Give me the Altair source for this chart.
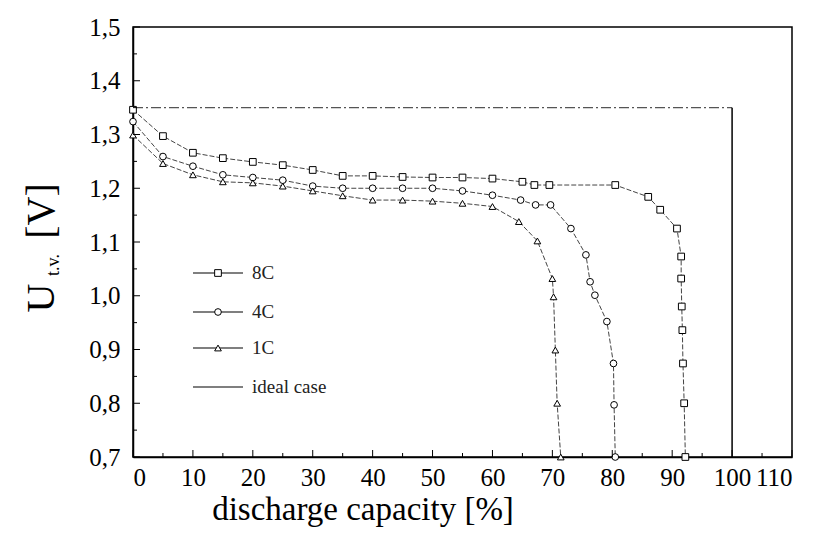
import altair as alt
import pandas as pd

# ---- data ----
x_8c = [0, 5, 10, 15, 20, 25, 30, 35, 40, 45, 50, 55, 60, 65, 67, 69.5, 80.5, 86, 88, 90.8, 91.5, 91.5, 91.6, 91.7, 91.8, 92, 92.2]
v_8c = [1.346, 1.297, 1.266, 1.256, 1.249, 1.243, 1.234, 1.223, 1.223, 1.221, 1.22, 1.22, 1.218, 1.212, 1.206, 1.206, 1.206, 1.184, 1.16, 1.125, 1.073, 1.032, 0.98, 0.936, 0.874, 0.80, 0.70]
x_4c = [0, 5, 10, 15, 20, 25, 30, 35, 40, 45, 50, 55, 60, 64.7, 67.2, 69.7, 73.1, 75.6, 76.3, 77.1, 79.1, 80.2, 80.3, 80.5]
v_4c = [1.324, 1.259, 1.241, 1.225, 1.22, 1.215, 1.204, 1.2, 1.2, 1.2, 1.2, 1.195, 1.187, 1.178, 1.169, 1.169, 1.125, 1.076, 1.026, 1.001, 0.952, 0.874, 0.797, 0.70]
x_1c = [0, 5, 10, 15, 20, 25, 30, 35, 40, 45, 50, 55, 60, 64.4, 67.5, 70, 70.2, 70.5, 70.8, 71.4]
v_1c = [1.299, 1.246, 1.225, 1.212, 1.21, 1.204, 1.195, 1.186, 1.178, 1.178, 1.176, 1.172, 1.166, 1.138, 1.102, 1.032, 0.998, 0.899, 0.80, 0.70]
x_ideal = [0, 100, 100]
v_ideal = [1.35, 1.35, 0.70]

series_names = ["8C", "4C", "1C"]
legend_labels = ["8C", "4C", "1C", "ideal case"]
x_ticks = list(range(0, 111, 10))
x_minor = list(range(5, 110, 10))
y_ticks = [0.7, 0.8, 0.9, 1.0, 1.1, 1.2, 1.3, 1.4, 1.5]
y_minor = [0.75, 0.85, 0.95, 1.05, 1.15, 1.25, 1.35, 1.45]

W, H = 659, 430
FONT = "Liberation Serif"

rows = []
for name, xs, vs in [("8C", x_8c, v_8c), ("4C", x_4c, v_4c), ("1C", x_1c, v_1c)]:
    for i, (a, b) in enumerate(zip(xs, vs)):
        rows.append({"series": name, "x": a, "v": b, "i": i})
df = pd.DataFrame(rows)
ideal = pd.DataFrame({"x": x_ideal, "v": v_ideal, "i": range(len(x_ideal))})

xs = alt.Scale(domain=[0, 110], nice=False)
ys = alt.Scale(domain=[0.7, 1.5], nice=False)
shape_scale = alt.Scale(domain=series_names, range=["square", "circle", "triangle-up"])

base = alt.Chart(df)
lines = base.mark_line(color="#444", strokeWidth=1, strokeDash=[5, 2]).encode(
    x=alt.X("x:Q", scale=xs, axis=alt.Axis(values=x_ticks, tickSize=0, labelFont=FONT, labelFontSize=25,
                                          labelColor="black", labelPadding=8, domainColor="black",
                                          domainWidth=1.5, grid=False, title=None)),
    y=alt.Y("v:Q", scale=ys, axis=alt.Axis(values=y_ticks, tickSize=0, labelFont=FONT, labelFontSize=25,
                                          labelColor="black", labelPadding=13, domainColor="black",
                                          domainWidth=1.5, grid=False, title=None,
                                          labelExpr="replace(format(datum.value, '.1f'), '.', ',')")),
    detail="series:N",
    order="i:Q",
)
points = base.mark_point(filled=True, fill="white", stroke="black", strokeWidth=1, size=45, opacity=1).encode(
    x=alt.X("x:Q", scale=xs),
    y=alt.Y("v:Q", scale=ys),
    shape=alt.Shape("series:N", scale=shape_scale, legend=None),
)
ideal_h = alt.Chart(ideal.iloc[:2]).mark_line(color="#555", strokeWidth=1.2, strokeDash=[10, 3, 2, 3]).encode(
    x=alt.X("x:Q", scale=xs), y=alt.Y("v:Q", scale=ys), order="i:Q")
ideal_v = alt.Chart(ideal.iloc[1:]).mark_line(color="black", strokeWidth=1.5).encode(
    x=alt.X("x:Q", scale=xs), y=alt.Y("v:Q", scale=ys), order="i:Q")

# inward ticks
xt = pd.DataFrame({"t": x_ticks})
xm = pd.DataFrame({"t": x_minor})
yt = pd.DataFrame({"t": y_ticks})
ym = pd.DataFrame({"t": y_minor})
tick_style = dict(color="black", strokeWidth=1)
xticks = alt.Chart(xt).mark_rule(**tick_style).encode(x=alt.X("t:Q", scale=xs), y=alt.value(H), y2=alt.value(H - 7))
xmticks = alt.Chart(xm).mark_rule(**tick_style).encode(x=alt.X("t:Q", scale=xs), y=alt.value(H), y2=alt.value(H - 4))
yticks = alt.Chart(yt).mark_rule(**tick_style).encode(y=alt.Y("t:Q", scale=ys), x=alt.value(0), x2=alt.value(7))
ymticks = alt.Chart(ym).mark_rule(**tick_style).encode(y=alt.Y("t:Q", scale=ys), x=alt.value(0), x2=alt.value(4))

# legend (inside plot)
leg_y = [246, 285, 321, 360]
leg = pd.DataFrame({"label": legend_labels, "row": range(4), "yy": leg_y})
leg_lines = alt.Chart(leg).mark_rule(color="black", strokeWidth=1.2).encode(
    x=alt.value(60), x2=alt.value(110), y=alt.Y("yy:Q", scale=None))
leg_pts = alt.Chart(leg.iloc[:3]).mark_point(filled=True, fill="white", stroke="black", strokeWidth=1, size=45, opacity=1).encode(
    x=alt.value(85), y=alt.Y("yy:Q", scale=None),
    shape=alt.Shape("label:N", scale=shape_scale, legend=None))
leg_text = alt.Chart(leg).mark_text(font=FONT, fontSize=19, align="left", baseline="middle", color="#222").encode(
    x=alt.value(119), y=alt.Y("yy:Q", scale=None), text="label:N")

# titles
xtitle = alt.Chart(pd.DataFrame({"t": ["discharge capacity [%]"]})).mark_text(
    font=FONT, fontSize=33, align="center", baseline="alphabetic", color="black").encode(
    x=alt.value(230), y=alt.value(493), text="t:N")
yt_df = pd.DataFrame({"t": ["U", "t.v.", "[V]"], "px": [-91, -79, -91], "py": [271, 238, 184], "fs": [40, 18, 40]})
ytitle = alt.Chart(yt_df).mark_text(font=FONT, align="center", baseline="middle", color="black", angle=270).encode(
    x=alt.X("px:Q", scale=None), y=alt.Y("py:Q", scale=None), text="t:N",
    size=alt.Size("fs:Q", scale=None, legend=None))

chart = alt.layer(
    ideal_h, ideal_v, lines, points, xticks, xmticks, yticks, ymticks,
    leg_lines, leg_pts, leg_text, xtitle, ytitle
).properties(
    width=W, height=H,
    autosize=alt.AutoSizeParams(type="none"),
    padding={"left": 133, "top": 27, "right": 39, "bottom": 76},
    background="white",
).configure_view(stroke="black", strokeWidth=1.5)

chart.save("out.html", embed_options={"renderer": "svg", "actions": False})
